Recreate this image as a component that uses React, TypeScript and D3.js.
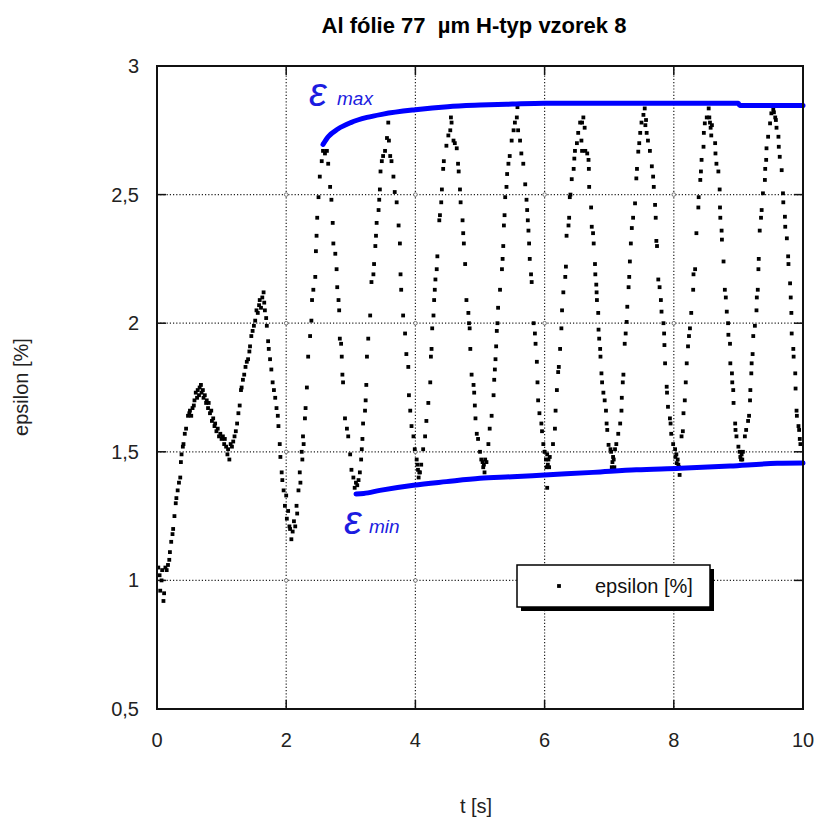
import React from 'react';
import * as d3 from 'd3';

const W = 815;
const H = 819;
const plot = { left: 157, right: 803, top: 66, bottom: 709 };

const titleText = 'Al fólie 77  µm H-typ vzorek 8';
const xTicks = [0, 2, 4, 6, 8, 10];
const xTickLabels = ['0', '2', '4', '6', '8', '10'];
const yTicks = [0.5, 1, 1.5, 2, 2.5, 3];
const yTickLabels = ['0,5', '1', '1,5', '2', '2,5', '3'];
const xLabel = 't [s]';
const yLabel = 'epsilon [%]';
const legendLabel = 'epsilon [%]';

// measured points (t [s], epsilon [%])
const tValues = [
  0.02, 0.04, 0.05, 0.07, 0.08, 0.10, 0.11, 0.13, 0.15, 0.17, 0.19, 0.20, 0.22, 0.24, 0.25, 0.27, 0.29, 0.30, 0.32, 0.34,
  0.36, 0.37, 0.38, 0.40, 0.41, 0.43, 0.45, 0.48, 0.50, 0.51, 0.53, 0.55, 0.57, 0.58, 0.60, 0.62, 0.63, 0.65, 0.66, 0.68,
  0.69, 0.71, 0.72, 0.74, 0.76, 0.77, 0.79, 0.80, 0.82, 0.84, 0.85, 0.87, 0.89, 0.90, 0.92, 0.94, 0.96, 0.98, 1.00, 1.02,
  1.04, 1.05, 1.07, 1.09, 1.10, 1.12, 1.14, 1.16, 1.18, 1.20, 1.22, 1.24, 1.26, 1.28, 1.30, 1.31, 1.33, 1.35, 1.37, 1.39,
  1.41, 1.43, 1.44, 1.46, 1.48, 1.50, 1.52, 1.54, 1.56, 1.58, 1.59, 1.61, 1.63, 1.65, 1.66, 1.67, 1.69, 1.70, 1.72, 1.73,
  1.75, 1.77, 1.79, 1.81, 1.83, 1.85, 1.87, 1.88, 1.90, 1.91, 1.93, 1.94, 1.96, 1.98, 2.00, 2.01, 2.03, 2.05, 2.06, 2.08,
  2.10, 2.12, 2.14, 2.16, 2.17, 2.19, 2.21, 2.22, 2.24, 2.25, 2.26, 2.27, 2.29, 2.30, 2.32, 2.34, 2.37, 2.39, 2.40, 2.42,
  2.45, 2.46, 2.47, 2.48, 2.50, 2.52, 2.55, 2.57, 2.60, 2.63, 2.65, 2.68, 2.70, 2.72, 2.73, 2.76, 2.78, 2.79, 2.81, 2.82,
  2.83, 2.85, 2.86, 2.87, 2.88, 2.91, 2.94, 2.96, 2.99, 3.01, 3.04, 3.06, 3.08, 3.10, 3.12, 3.14, 3.16, 3.17, 3.18, 3.19,
  3.22, 3.23, 3.24, 3.25, 3.27, 3.30, 3.32, 3.35, 3.36, 3.38, 3.39, 3.40, 3.43, 3.44, 3.45, 3.46, 3.48, 3.50, 3.53, 3.56,
  3.58, 3.59, 3.61, 3.63, 3.66, 3.68, 3.71, 3.74, 3.76, 3.77, 3.78, 3.81, 3.84, 3.86, 3.89, 3.90, 3.92, 3.94, 3.97, 3.99,
  4.02, 4.03, 4.04, 4.05, 4.06, 4.07, 4.09, 4.12, 4.15, 4.17, 4.20, 4.23, 4.24, 4.25, 4.26, 4.28, 4.29, 4.30, 4.31, 4.33,
  4.34, 4.37, 4.38, 4.40, 4.41, 4.43, 4.44, 4.48, 4.51, 4.54, 4.55, 4.56, 4.59, 4.61, 4.64, 4.66, 4.67, 4.69, 4.70, 4.73,
  4.74, 4.75, 4.77, 4.79, 4.82, 4.83, 4.84, 4.85, 4.87, 4.90, 4.91, 4.92, 4.93, 4.95, 4.97, 5.00, 5.02, 5.04, 5.05, 5.06,
  5.07, 5.08, 5.10, 5.13, 5.15, 5.18, 5.21, 5.22, 5.23, 5.24, 5.25, 5.26, 5.27, 5.28, 5.31, 5.34, 5.35, 5.36, 5.37, 5.38,
  5.39, 5.41, 5.42, 5.44, 5.46, 5.49, 5.52, 5.54, 5.57, 5.58, 5.59, 5.62, 5.64, 5.67, 5.70, 5.72, 5.73, 5.74, 5.75, 5.76,
  5.77, 5.79, 5.80, 5.83, 5.85, 5.86, 5.88, 5.89, 5.90, 5.92, 5.95, 5.96, 5.98, 6.00, 6.02, 6.03, 6.04, 6.04, 6.05, 6.06,
  6.07, 6.08, 6.13, 6.16, 6.17, 6.19, 6.21, 6.22, 6.24, 6.26, 6.27, 6.29, 6.32, 6.33, 6.34, 6.37, 6.38, 6.39, 6.40, 6.42,
  6.45, 6.46, 6.47, 6.50, 6.52, 6.55, 6.57, 6.58, 6.58, 6.60, 6.62, 6.63, 6.66, 6.68, 6.685, 6.69, 6.72, 6.73, 6.75, 6.76,
  6.78, 6.785, 6.80, 6.805, 6.81, 6.83, 6.835, 6.845, 6.86, 6.865, 6.88, 6.89, 6.91, 6.93, 6.95, 6.96, 6.97, 6.99, 7.02, 7.03,
  7.04, 7.05, 7.06, 7.07, 7.08, 7.09, 7.11, 7.14, 7.17, 7.19, 7.195, 7.21, 7.22, 7.24, 7.255, 7.27, 7.28, 7.30, 7.31, 7.32,
  7.335, 7.35, 7.37, 7.40, 7.42, 7.43, 7.45, 7.465, 7.48, 7.50, 7.53, 7.55, 7.56, 7.57, 7.58, 7.60, 7.63, 7.66, 7.68, 7.69,
  7.71, 7.72, 7.73, 7.74, 7.76, 7.78, 7.80, 7.81, 7.84, 7.85, 7.855, 7.865, 7.89, 7.895, 7.91, 7.94, 7.95, 7.96, 7.99, 8.02,
  8.025, 8.04, 8.045, 8.06, 8.07, 8.08, 8.09, 8.12, 8.14, 8.15, 8.17, 8.185, 8.20, 8.22, 8.235, 8.25, 8.27, 8.30, 8.305, 8.33,
  8.35, 8.38, 8.385, 8.41, 8.42, 8.43, 8.46, 8.465, 8.48, 8.51, 8.54, 8.55, 8.56, 8.57, 8.58, 8.59, 8.64, 8.645, 8.66, 8.69,
  8.71, 8.715, 8.72, 8.74, 8.745, 8.77, 8.79, 8.805, 8.82, 8.84, 8.845, 8.87, 8.875, 8.90, 8.905, 8.92, 8.925, 8.95, 8.955, 8.97,
  9.00, 9.02, 9.03, 9.04, 9.05, 9.06, 9.07, 9.10, 9.12, 9.15, 9.165, 9.18, 9.185, 9.20, 9.205, 9.22, 9.23, 9.255, 9.28, 9.285,
  9.30, 9.31, 9.315, 9.33, 9.35, 9.36, 9.38, 9.41, 9.415, 9.43, 9.435, 9.46, 9.49, 9.51, 9.54, 9.55, 9.57, 9.58, 9.59, 9.62,
  9.625, 9.64, 9.67, 9.69, 9.695, 9.72, 9.725, 9.75, 9.77, 9.775, 9.80, 9.81, 9.82, 9.825, 9.85, 9.855, 9.88, 9.885, 9.90, 9.905,
  9.93, 9.94, 9.95, 9.96,
];
const epsValues = [
  1.05, 1.02, 0.96, 1.00, 1.04, 0.92, 0.95, 1.05, 1.04, 1.06, 1.08, 1.11, 1.15, 1.18, 1.20, 1.25, 1.30, 1.32, 1.35, 1.38,
  1.40, 1.46, 1.49, 1.52, 1.53, 1.57, 1.59, 1.64, 1.65, 1.66, 1.64, 1.67, 1.68, 1.70, 1.73, 1.71, 1.74, 1.72, 1.75, 1.76,
  1.73, 1.74, 1.71, 1.72, 1.69, 1.70, 1.67, 1.69, 1.65, 1.66, 1.62, 1.63, 1.60, 1.61, 1.58, 1.59, 1.56, 1.57, 1.55, 1.56,
  1.53, 1.55, 1.52, 1.49, 1.51, 1.47, 1.53, 1.52, 1.54, 1.56, 1.58, 1.61, 1.65, 1.68, 1.74, 1.75, 1.78, 1.80, 1.83, 1.85,
  1.86, 1.89, 1.91, 1.95, 1.97, 1.99, 2.01, 2.05, 2.04, 2.07, 2.09, 2.06, 2.10, 2.12, 2.08, 2.05, 2.02, 1.99, 1.93, 1.90,
  1.86, 1.82, 1.77, 1.74, 1.71, 1.67, 1.64, 1.60, 1.53, 1.48, 1.42, 1.39, 1.35, 1.29, 1.33, 1.24, 1.27, 1.21, 1.20, 1.16,
  1.19, 1.23, 1.21, 1.29, 1.26, 1.35, 1.42, 1.38, 1.50, 1.47, 1.56, 1.53, 1.63, 1.67, 1.75, 1.87, 1.95, 2.01, 2.09, 2.13,
  2.18, 2.28, 2.34, 2.41, 2.49, 2.57, 2.63, 2.67, 2.66, 2.67, 2.62, 2.53, 2.48, 2.39, 2.31, 2.27, 2.21, 2.14, 2.09, 2.05,
  1.94, 1.92, 1.87, 1.80, 1.77, 1.63, 1.59, 1.56, 1.49, 1.43, 1.40, 1.36, 1.38, 1.37, 1.39, 1.42, 1.47, 1.51, 1.55, 1.61,
  1.66, 1.70, 1.76, 1.87, 1.94, 2.03, 2.16, 2.19, 2.23, 2.30, 2.34, 2.39, 2.44, 2.48, 2.52, 2.59, 2.63, 2.65, 2.67, 2.72,
  2.78, 2.71, 2.65, 2.63, 2.57, 2.51, 2.47, 2.38, 2.31, 2.19, 2.13, 2.03, 1.96, 1.88, 1.83, 1.72, 1.66, 1.60, 1.56, 1.51,
  1.47, 1.45, 1.43, 1.40, 1.42, 1.42, 1.45, 1.51, 1.56, 1.62, 1.69, 1.77, 1.87, 1.90, 1.98, 2.03, 2.09, 2.13, 2.17, 2.21,
  2.26, 2.40, 2.42, 2.47, 2.52, 2.60, 2.63, 2.69, 2.73, 2.75, 2.80, 2.78, 2.71, 2.70, 2.68, 2.62, 2.59, 2.52, 2.47, 2.40,
  2.35, 2.31, 2.23, 2.09, 2.04, 2.00, 1.98, 1.90, 1.80, 1.76, 1.73, 1.68, 1.63, 1.57, 1.55, 1.50, 1.47, 1.46, 1.44, 1.45,
  1.42, 1.47, 1.46, 1.53, 1.59, 1.64, 1.72, 1.78, 1.82, 1.86, 1.91, 1.97, 2.00, 2.06, 2.13, 2.21, 2.25, 2.30, 2.38, 2.42,
  2.49, 2.53, 2.58, 2.62, 2.65, 2.71, 2.75, 2.78, 2.80, 2.84, 2.75, 2.71, 2.66, 2.62, 2.54, 2.48, 2.44, 2.40, 2.36, 2.31,
  2.25, 2.19, 2.16, 2.00, 1.96, 1.92, 1.85, 1.77, 1.70, 1.65, 1.61, 1.58, 1.53, 1.50, 1.47, 1.44, 1.49, 1.36, 1.45, 1.47,
  1.44, 1.48, 1.53, 1.59, 1.66, 1.74, 1.81, 1.83, 1.90, 1.98, 2.05, 2.12, 2.18, 2.22, 2.34, 2.38, 2.41, 2.49, 2.50, 2.56,
  2.60, 2.64, 2.67, 2.70, 2.74, 2.78, 2.71, 2.67, 2.78, 2.80, 2.76, 2.67, 2.66, 2.635, 2.60, 2.53, 2.45, 2.375, 2.35, 2.31,
  2.23, 2.19, 2.15, 2.12, 2.09, 2.04, 1.975, 1.94, 1.90, 1.87, 1.805, 1.77, 1.73, 1.70, 1.66, 1.61, 1.585, 1.527, 1.51, 1.50,
  1.44, 1.46, 1.48, 1.47, 1.44, 1.51, 1.53, 1.57, 1.61, 1.66, 1.71, 1.77, 1.80, 1.92, 1.96, 2.005, 2.064, 2.14, 2.18, 2.24,
  2.31, 2.37, 2.41, 2.466, 2.563, 2.60, 2.667, 2.70, 2.74, 2.78, 2.81, 2.835, 2.77, 2.79, 2.74, 2.71, 2.67, 2.61, 2.57, 2.53,
  2.46, 2.41, 2.32, 2.30, 2.17, 2.14, 2.09, 2.045, 2.00, 1.96, 1.915, 1.844, 1.753, 1.73, 1.675, 1.63, 1.61, 1.57, 1.53, 1.51,
  1.48, 1.49, 1.456, 1.47, 1.45, 1.44, 1.41, 1.56, 1.58, 1.65, 1.70, 1.77, 1.844, 1.91, 1.95, 1.98, 2.04, 2.13, 2.19, 2.21,
  2.35, 2.45, 2.49, 2.557, 2.59, 2.635, 2.686, 2.74, 2.777, 2.80, 2.835, 2.80, 2.78, 2.76, 2.73, 2.77, 2.70, 2.66, 2.62, 2.59,
  2.52, 2.45, 2.41, 2.36, 2.325, 2.24, 2.13, 2.10, 2.045, 2.00, 1.955, 1.92, 1.844, 1.805, 1.77, 1.74, 1.69, 1.61, 1.585, 1.56,
  1.52, 1.50, 1.48, 1.47, 1.49, 1.47, 1.50, 1.56, 1.585, 1.62, 1.64, 1.70, 1.74, 1.805, 1.844, 1.88, 1.95, 1.99, 2.05, 2.10,
  2.13, 2.21, 2.25, 2.36, 2.41, 2.44, 2.505, 2.557, 2.60, 2.635, 2.68, 2.725, 2.777, 2.816, 2.83, 2.82, 2.80, 2.79, 2.76, 2.725,
  2.686, 2.647, 2.595, 2.505, 2.47, 2.414, 2.375, 2.33, 2.26, 2.23, 2.155, 2.10, 2.04, 1.96, 1.90, 1.87, 1.805, 1.746, 1.66, 1.64,
  1.60, 1.585, 1.55, 1.53,
];

// envelope curves
const maxT = [2.57, 2.65, 2.8, 3.0, 3.25, 3.5, 4.0, 4.5, 5.0, 5.5, 6.0, 9.0, 9.02, 10];
const maxEps = [2.695, 2.725, 2.755, 2.78, 2.8, 2.813, 2.83, 2.842, 2.848, 2.852, 2.855, 2.855, 2.846, 2.846];
const minT = [3.08, 3.2, 3.45, 3.97, 4.48, 5.0, 5.5, 6.0, 6.75, 7.42, 8.1, 8.87, 9.6, 10];
const minEps = [1.336, 1.338, 1.35, 1.37, 1.384, 1.397, 1.403, 1.41, 1.42, 1.43, 1.436, 1.445, 1.455, 1.456];

const FONT = '"Liberation Sans", Arial, sans-serif';
const BLUE = '#0000ff';

export default function App() {
  const x = d3.scaleLinear().domain([0, 10]).range([plot.left, plot.right]);
  const y = d3.scaleLinear().domain([0.5, 3]).range([plot.bottom, plot.top]);

  const line = d3
    .line<[number, number]>()
    .x((d) => x(d[0]))
    .y((d) => y(d[1]))
    .curve(d3.curveMonotoneX);

  const maxPath = line(maxT.map((t, i) => [t, maxEps[i]] as [number, number])) || '';
  const minPath = line(minT.map((t, i) => [t, minEps[i]] as [number, number])) || '';

  const dot = 3.8;
  const tickLen = 9;

  return (
    <svg
      width={W}
      height={H}
      style={{ position: 'absolute', left: 0, top: 0, background: '#fff' }}
      fontFamily={FONT}
    >
      <rect x={0} y={0} width={W} height={H} fill="#fff" />
      <text x={474} y={33} textAnchor="middle" fontSize={22} fontWeight="bold" fill="#000" style={{ whiteSpace: 'pre' }}>
        {titleText}
      </text>

      {/* grid */}
      <g stroke="#222" strokeWidth={1.2} strokeDasharray="1.2 2">
        {xTicks.slice(1, -1).map((t) => (
          <line key={'gx' + t} x1={x(t)} x2={x(t)} y1={plot.top} y2={plot.bottom} />
        ))}
        {yTicks.slice(1, -1).map((v) => (
          <line key={'gy' + v} x1={plot.left} x2={plot.right} y1={y(v)} y2={y(v)} />
        ))}
      </g>
      <g fill="#fff" stroke="#666" strokeWidth={0.9}>
        {xTicks.slice(1, -1).map((t) =>
          yTicks.slice(1, -1).map((v) => <circle key={`c${t}-${v}`} cx={x(t)} cy={y(v)} r={1.8} />)
        )}
      </g>

      {/* ticks */}
      <g stroke="#111" strokeWidth={1.5}>
        {yTicks.map((v) => (
          <g key={'ty' + v}>
            <line x1={plot.left} x2={plot.left + tickLen} y1={y(v)} y2={y(v)} />
            <line x1={plot.right - tickLen} x2={plot.right} y1={y(v)} y2={y(v)} />
          </g>
        ))}
        {xTicks.map((t) => (
          <g key={'tx' + t}>
            <line x1={x(t)} x2={x(t)} y1={plot.bottom} y2={plot.bottom - tickLen} />
            <line x1={x(t)} x2={x(t)} y1={plot.top} y2={plot.top + tickLen} />
          </g>
        ))}
      </g>

      {/* data points */}
      <g fill="#000">
        {tValues.map((t, i) => (
          <rect key={'p' + i} x={x(t) - dot / 2} y={y(epsValues[i]) - dot / 2} width={dot} height={dot} />
        ))}
      </g>

      {/* envelopes */}
      <path d={maxPath} fill="none" stroke={BLUE} strokeWidth={5} strokeLinecap="round" />
      <path d={minPath} fill="none" stroke={BLUE} strokeWidth={5} strokeLinecap="round" />

      {/* frame */}
      <rect
        x={plot.left}
        y={plot.top}
        width={plot.right - plot.left}
        height={plot.bottom - plot.top}
        fill="none"
        stroke="#111"
        strokeWidth={2}
      />

      {/* tick labels */}
      <g fontSize={20} fill="#222">
        {yTicks.map((v, i) => (
          <text key={'ly' + v} x={139} y={y(v)} dy="0.35em" textAnchor="end">
            {yTickLabels[i]}
          </text>
        ))}
        {xTicks.map((t, i) => (
          <text key={'lx' + t} x={x(t)} y={747} textAnchor="middle">
            {xTickLabels[i]}
          </text>
        ))}
      </g>

      {/* axis titles */}
      <text x={476} y={813} textAnchor="middle" fontSize={20} fill="#222">
        {xLabel}
      </text>
      <text transform="translate(28,387) rotate(-90)" textAnchor="middle" fontSize={20} fill="#222">
        {yLabel}
      </text>

      {/* epsilon labels */}
      <g fill="#1c1ce0" fontStyle="italic">
        <text x={309} y={106} fontSize={40}>ε</text>
        <text x={337} y={105} fontSize={19}>max</text>
        <text x={344} y={534} fontSize={40}>ε</text>
        <text x={369} y={533} fontSize={19}>min</text>
      </g>

      {/* legend */}
      <rect x={521} y={569} width={193} height={42} fill="#000" />
      <rect x={517} y={565} width={193} height={42} fill="#fff" stroke="#000" strokeWidth={1.5} />
      <rect x={559 - dot / 2} y={586 - dot / 2} width={dot} height={dot} fill="#000" />
      <text x={595} y={593} fontSize={20} fill="#111">
        {legendLabel}
      </text>
    </svg>
  );
}
